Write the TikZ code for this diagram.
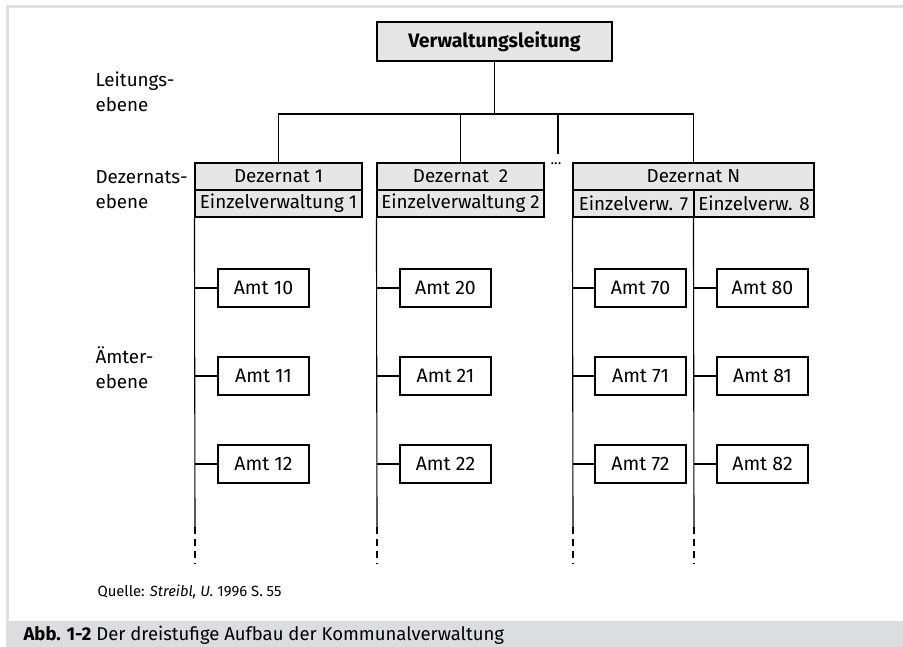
\documentclass[tikz,border=0pt]{standalone}
\usepackage{fontspec}
\setmainfont{Fira Sans}
\definecolor{boxgray}{HTML}{E6E6E6}
\definecolor{framegray}{HTML}{E0E0E0}
\definecolor{capgray}{HTML}{DCDDDE}
\begin{document}
\begin{tikzpicture}[x=1pt,y=-1pt,line width=1.1pt,
  grayrow/.style={draw, fill=boxgray, inner sep=0pt, minimum height=27pt, font=\fontsize{18.8}{21}\selectfont},
  amt/.style={draw, fill=white, inner sep=0pt, minimum width=91pt, minimum height=38pt, font=\fontsize{19.5}{21}\selectfont},
  lbl/.style={anchor=west, align=left, inner sep=0pt, font=\fontsize{18.8}{25}\selectfont},
  trunkdash/.style={draw, dash pattern=on 7pt off 5pt}]
\useasboundingbox (0,0) rectangle (903,647);
\fill[white] (0,0) rectangle (903,647);
\fill[framegray] (6,5) rectangle (903,8);
\fill[framegray] (6,5) rectangle (9,647);
\fill[capgray] (6,621) rectangle (903,647);

% top
\node[draw, fill=boxgray, minimum width=235pt, minimum height=39pt, inner sep=0pt,
  font=\fontsize{19.5}{21}\selectfont\bfseries] (vl) at (494.5,41.5) {Verwaltungsleitung};

% Dezernate
\node[grayrow, minimum width=167pt] (d1) at (278.5,176.5) {Dezernat 1};
\node[grayrow, minimum width=167pt] (e1) at (278.5,203.5) {Einzelverwaltung 1};
\node[grayrow, minimum width=167pt] (d2) at (460.5,176.5) {Dezernat~~2};
\node[grayrow, minimum width=167pt] (e2) at (460.5,203.5) {Einzelverwaltung 2};
\node[grayrow, minimum width=241pt] (dn) at (693.5,176.5) {Dezernat N};
\node[grayrow, minimum width=121pt] (e7) at (633.5,203.5) {Einzelverw. 7};
\node[grayrow, minimum width=120pt] (e8) at (754,203.5) {Einzelverw. 8};
\node[inner sep=0pt, font=\fontsize{15}{17}\selectfont] (dots) at (556,164) {...};

% connectors top
\coordinate (bus) at (494.5,114);
\coordinate (dotsline) at (558,154);
\draw (vl.south) -- (bus);
\draw (d1.north) |- (bus) -| (dn.north);
\draw (d2.north) -- (d2.north |- bus);
\draw (dotsline) -- (dotsline |- bus);

% trunks
\coordinate (s1) at (195,527); \coordinate (f1) at (195,564);
\coordinate (s2) at (377,527); \coordinate (f2) at (377,564);
\coordinate (s7) at (573,527); \coordinate (f7) at (573,564);
\coordinate (s8) at (694,527); \coordinate (f8) at (694,564);
\draw (e1.south west) -- (s1); \draw[trunkdash] (s1) -- (f1);
\draw (e2.south west) -- (s2); \draw[trunkdash] (s2) -- (f2);
\draw (e7.south west) -- (s7); \draw[trunkdash] (s7) -- (f7);
\draw (e8.south west) -- (s8); \draw[trunkdash] (s8) -- (f8);

% Aemter
\foreach \n/\x/\y/\t in {10/263.5/288/s1, 11/263.5/376/s1, 12/263.5/464/s1,
                         20/445.5/288/s2, 21/445.5/376/s2, 22/445.5/464/s2,
                         70/640.5/288/s7, 71/640.5/376/s7, 72/640.5/464/s7,
                         80/762.5/288/s8, 81/762.5/376/s8, 82/762.5/464/s8}{
  \node[amt] (a\n) at (\x,\y) {Amt \n};
  \draw (a\n.west) -- (a\n.west -| \t);
}

% level labels
\node[lbl] (l1) at (95,92) {Leitungs-\\ebene};
\node[lbl] (l2) at (95,190) {Dezernats-\\ebene};
\node[lbl] (l3) at (95,368) {Ämter-\\ebene};

% source and caption
\node[anchor=west, inner sep=0pt, font=\fontsize{14.8}{17}\selectfont] (src) at (97,592)
  {Quelle: \textit{Streibl, U.} 1996 S. 55};
\node[anchor=west, inner sep=0pt, font=\fontsize{18.5}{20}\selectfont] (cap) at (23,635)
  {\textbf{Abb. 1-2} Der dreistufige Aufbau der Kommunalverwaltung};
\end{tikzpicture}
\end{document}
